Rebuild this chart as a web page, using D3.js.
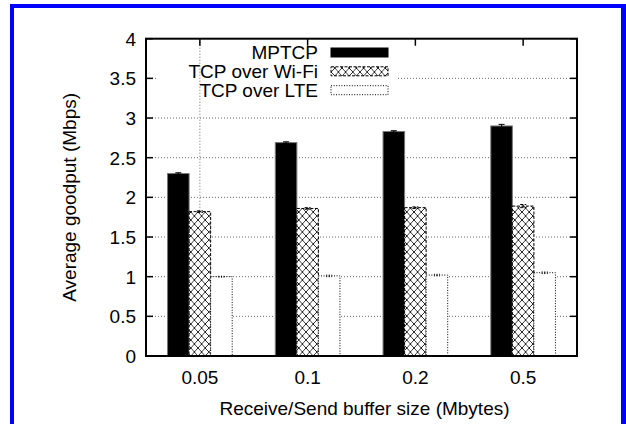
<!DOCTYPE html>
<html>
<head>
<meta charset="utf-8">
<script src="https://cdn.jsdelivr.net/npm/d3@7"></script>
<style>
  html, body { margin: 0; padding: 0; background: #fff; overflow: hidden; }
  svg { display: block; }
  text { font-family: "Liberation Sans", Arial, Helvetica, sans-serif; fill: #000; }
</style>
</head>
<body>
<div id="chart"></div>
<script>
// buffer sizes on the x axis
const categories = ["0.05", "0.1", "0.2", "0.5"];
const seriesNames = ["MPTCP", "TCP over Wi-Fi", "TCP over LTE"];
// average goodput (Mbps)
const mptcp = [2.30, 2.69, 2.83, 2.90];
const wifi = [1.82, 1.86, 1.87, 1.89];
const lte = [1.00, 1.01, 1.02, 1.05];
// half error bar sizes
const mptcpErr = [0.01, 0.01, 0.01, 0.02];
const wifiErr = [0.01, 0.01, 0.01, 0.02];
const lteErr = [0.005, 0.01, 0.01, 0.01];
const yTicks = [0, 0.5, 1, 1.5, 2, 2.5, 3, 3.5, 4];
const yTickLabels = ["0", "0.5", "1", "1.5", "2", "2.5", "3", "3.5", "4"];

const W = 626, H = 424;
const plotLeft = 146, plotRight = 577, plotTop = 38.7, plotBottom = 356;

const svg = d3.select("#chart").append("svg")
  .attr("width", W).attr("height", H);

// hatch pattern for the wi-fi bars
const defs = svg.append("defs");
const pat = defs.append("pattern")
  .attr("id", "xhatch")
  .attr("patternUnits", "userSpaceOnUse")
  .attr("width", 7.2).attr("height", 8);
pat.append("rect").attr("width", 7.2).attr("height", 8).attr("fill", "#fff");
pat.append("path").attr("d", "M0,0L7.2,8M7.2,0L0,8")
  .attr("stroke", "#000").attr("stroke-width", 0.8);
pat.append("rect").attr("x", 3.1).attr("y", 3.5).attr("width", 1.2).attr("height", 1.2).attr("fill", "#000");

// blue frame round the picture
svg.append("rect").attr("x", 10).attr("y", 4).attr("width", 4).attr("height", H).attr("fill", "#0000ff");
svg.append("rect").attr("x", 10).attr("y", 4).attr("width", W - 10).attr("height", 4).attr("fill", "#0000ff");
svg.append("rect").attr("x", 621).attr("y", 4).attr("width", 5).attr("height", H).attr("fill", "#0000ff");

const y = d3.scaleLinear().domain([0, 4]).range([plotBottom, plotTop]);
const x0 = d3.scaleBand().domain(categories).range([plotLeft, plotRight]);
const x1 = d3.scaleBand().domain(seriesNames).range([0, x0.bandwidth()])
  .paddingInner(0).paddingOuter(1);

// horizontal grid
const grid = svg.append("g");
yTicks.slice(1, -1).forEach(t => {
  grid.append("line")
    .attr("x1", plotLeft).attr("x2", plotRight)
    .attr("y1", y(t)).attr("y2", y(t))
    .attr("stroke", "#444").attr("stroke-width", 0.8)
    .attr("stroke-dasharray", "1,2");
});

// key background hides the grid under it
svg.append("rect").attr("x", 158).attr("y", 42).attr("width", 240).attr("height", 58).attr("fill", "#fff");

// vertical grid at the first cluster only
const firstX = x0(categories[0]) + x0.bandwidth() / 2;
svg.append("line")
  .attr("x1", firstX).attr("x2", firstX)
  .attr("y1", plotTop).attr("y2", plotBottom)
  .attr("stroke", "#444").attr("stroke-width", 0.8)
  .attr("stroke-dasharray", "1,2");

// tics on all four sides
const tics = svg.append("g").attr("stroke", "#000").attr("stroke-width", 1.5);
yTicks.forEach(t => {
  tics.append("line").attr("x1", plotLeft).attr("x2", plotLeft + 7).attr("y1", y(t)).attr("y2", y(t));
  tics.append("line").attr("x1", plotRight).attr("x2", plotRight - 7).attr("y1", y(t)).attr("y2", y(t));
});
categories.forEach(c => {
  const cx = x0(c) + x0.bandwidth() / 2;
  tics.append("line").attr("x1", cx).attr("x2", cx).attr("y1", plotTop).attr("y2", plotTop + 7);
  tics.append("line").attr("x1", cx).attr("x2", cx).attr("y1", plotBottom).attr("y2", plotBottom - 7);
});

const series = [
  { name: seriesNames[0], vals: mptcp, err: mptcpErr, fill: "#000", stroke: "#777", dash: null },
  { name: seriesNames[1], vals: wifi, err: wifiErr, fill: "url(#xhatch)", stroke: "#000", dash: "3,1.5" },
  { name: seriesNames[2], vals: lte, err: lteErr, fill: "#fff", stroke: "#000", dash: "1,1.6" }
];

const bars = svg.append("g");
series.forEach(s => {
  categories.forEach((c, i) => {
    const bx = x0(c) + x1(s.name);
    bars.append("rect")
      .attr("x", bx).attr("width", x1.bandwidth())
      .attr("y", y(s.vals[i])).attr("height", y(0) - y(s.vals[i]))
      .attr("fill", s.fill)
      .attr("stroke", s.stroke).attr("stroke-width", 1)
      .attr("stroke-dasharray", s.dash);
    // error bar
    const ex = bx + x1.bandwidth() / 2;
    const e = bars.append("g").attr("stroke", "#000").attr("stroke-width", 1)
      .attr("stroke-dasharray", s.dash);
    e.append("line").attr("x1", ex).attr("x2", ex)
      .attr("y1", y(s.vals[i] - s.err[i])).attr("y2", y(s.vals[i] + s.err[i]));
    [s.vals[i] - s.err[i], s.vals[i] + s.err[i]].forEach(v => {
      e.append("line").attr("x1", ex - 3).attr("x2", ex + 3).attr("y1", y(v)).attr("y2", y(v));
    });
  });
});

// frame
svg.append("rect")
  .attr("x", plotLeft).attr("y", plotTop)
  .attr("width", plotRight - plotLeft).attr("height", plotBottom - plotTop)
  .attr("fill", "none").attr("stroke", "#000").attr("stroke-width", 2);

// tick labels
const fs = 19;
yTicks.forEach((t, i) => {
  svg.append("text")
    .attr("x", 136).attr("y", y(t))
    .attr("dy", "0.36em")
    .attr("text-anchor", "end")
    .attr("font-size", fs)
    .text(yTickLabels[i]);
});
categories.forEach(c => {
  svg.append("text")
    .attr("x", x0(c) + x0.bandwidth() / 2).attr("y", 377)
    .attr("dy", "0.36em")
    .attr("text-anchor", "middle")
    .attr("font-size", fs)
    .text(c);
});

svg.append("text")
  .attr("x", (plotLeft + plotRight) / 2 + 3).attr("y", 408)
  .attr("dy", "0.36em")
  .attr("text-anchor", "middle")
  .attr("font-size", fs)
  .text("Receive/Send buffer size (Mbytes)");

svg.append("text")
  .attr("transform", `translate(69,${(plotTop + plotBottom) / 2}) rotate(-90)`)
  .attr("dy", "0.36em")
  .attr("text-anchor", "middle")
  .attr("font-size", fs)
  .text("Average goodput (Mbps)");

// key
const keyRowY = [52.5, 71.3, 90.2];
series.forEach((s, i) => {
  svg.append("text")
    .attr("x", 318).attr("y", keyRowY[i])
    .attr("dy", "0.36em")
    .attr("text-anchor", "end")
    .attr("font-size", fs)
    .text(s.name);
  svg.append("rect")
    .attr("x", 331).attr("y", keyRowY[i] - 4.5)
    .attr("width", 57).attr("height", 9)
    .attr("fill", s.fill)
    .attr("stroke", s.stroke === "#777" ? "#000" : s.stroke).attr("stroke-width", 1)
    .attr("stroke-dasharray", s.dash);
});
</script>
</body>
</html>
